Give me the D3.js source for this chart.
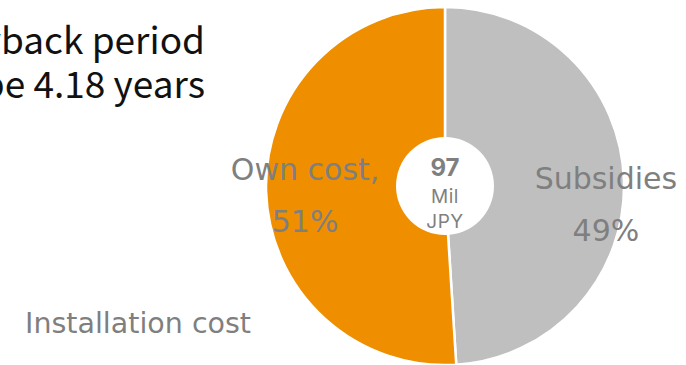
<!DOCTYPE html>
<html>
<head>
<meta charset="utf-8">
<script src="https://cdn.jsdelivr.net/npm/d3@7/dist/d3.min.js"></script>
<style>
  html, body { margin: 0; padding: 0; background: #fff; }
  svg { display: block; }
</style>
</head>
<body>
<svg id="chart" width="686" height="365"></svg>
<script>
// Installation cost split
const categories = ["Subsidies", "Own cost"];
const labelLines = [["Subsidies"], ["Own cost,"]];
const shares = [49, 51];
const totalValue = 97;
const totalUnit = ["Mil", "JPY"];
const titleLines = ["Payback period", "to be 4.18 years"];
const footLabel = "Installation cost";

const colors = d3.scaleOrdinal().domain(categories).range(["#bfbfbf", "#ef8f00"]);

const W = 686, H = 365;
const cx = 445, cy = 186;
const outerR = 179, innerR = 49;

const svg = d3.select("#chart");
const labelFont = "'DejaVu Sans', sans-serif";
const centreFont = "Inter, 'Open Sans', sans-serif";

// title, right aligned and running off the left edge
const title = svg.append("text")
  .attr("text-anchor", "end")
  .attr("font-family", "'Noto Sans CJK JP', 'Noto Sans', sans-serif")
  .attr("font-size", 37)
  .attr("fill", "#111");
titleLines.forEach((t, i) => {
  title.append("tspan").attr("x", 205).attr("y", 54 + i * 44).text(t);
});

const g = svg.append("g").attr("transform", `translate(${cx},${cy})`);

const pie = d3.pie().sort(null).value(d => d.value);
const data = categories.map((c, i) => ({ name: c, value: shares[i], lines: labelLines[i] }));
const arcs = pie(data);

const arc = d3.arc().innerRadius(0).outerRadius(outerR);

g.selectAll("path.slice")
  .data(arcs)
  .join("path")
  .attr("class", "slice")
  .attr("d", arc)
  .attr("fill", d => colors(d.data.name))
  .attr("stroke", "#fff")
  .attr("stroke-width", 2.5);

// hole
g.append("circle").attr("r", innerR).attr("fill", "#fff");

// centre total
g.append("text")
  .attr("text-anchor", "middle")
  .attr("y", -10)
  .attr("font-family", centreFont)
  .attr("font-weight", 700)
  .attr("font-size", 24)
  .attr("fill", "#7f7f7f")
  .text(totalValue);
totalUnit.forEach((t, i) => {
  g.append("text")
    .attr("text-anchor", "middle")
    .attr("y", 17 + i * 25)
    .attr("font-family", centreFont)
    .attr("font-size", 19)
    .attr("letter-spacing", 0.5)
    .attr("fill", "#7f7f7f")
    .text(t);
});

// slice labels
const labelRadius = { "Subsidies": 161, "Own cost": 140 };
const labelShift = { "Subsidies": 8, "Own cost": -10 };
arcs.forEach(d => {
  const r = labelRadius[d.data.name];
  const [lx, ly] = d3.arc().innerRadius(r).outerRadius(r).centroid(d);
  const t = g.append("text")
    .attr("text-anchor", "middle")
    .attr("font-family", labelFont)
    .attr("font-size", 30)
    .attr("fill", "#7f7f7f");
  const lines = d.data.lines.concat([d.data.value + "%"]);
  lines.forEach((s, i) => {
    t.append("tspan").attr("x", lx).attr("y", ly + labelShift[d.data.name] + i * 52).text(s);
  });
});

svg.append("text")
  .attr("x", 25)
  .attr("y", 333)
  .attr("font-family", labelFont)
  .attr("font-size", 28.5)
  .attr("fill", "#7f7f7f")
  .text(footLabel);
</script>
</body>
</html>
